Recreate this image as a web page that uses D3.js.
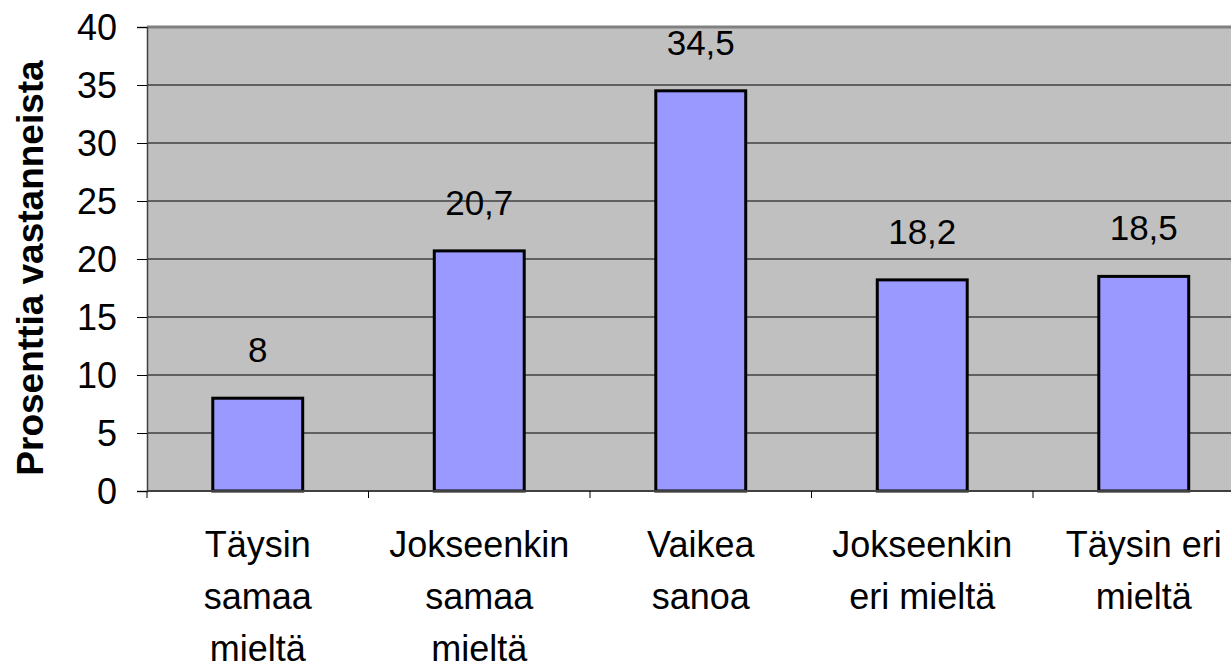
<!DOCTYPE html>
<html>
<head>
<meta charset="utf-8">
<script src="https://cdn.jsdelivr.net/npm/d3@7"></script>
<style>
  body { margin: 0; background: #fff; }
  svg { display: block; font-family: "Liberation Sans", Arial, sans-serif; }
</style>
</head>
<body>
<div class="chart-box"></div>
<script>
var categories = ["Täysin samaa mieltä", "Jokseenkin samaa mieltä", "Vaikea sanoa", "Jokseenkin eri mieltä", "Täysin eri mieltä"];
var cat_lines = [["Täysin", "samaa", "mieltä"], ["Jokseenkin", "samaa", "mieltä"], ["Vaikea", "sanoa"], ["Jokseenkin", "eri mieltä"], ["Täysin eri", "mieltä"]];
var values = [8, 20.7, 34.5, 18.2, 18.5];
var value_labels = ["8", "20,7", "34,5", "18,2", "18,5"];
var y_ticks = [0, 5, 10, 15, 20, 25, 30, 35, 40];

var width = 1231, height = 669;
var margin = {top: 27, left: 147};
var plot_w = 221.5 * 5, plot_h = 464;

var svg = d3.select(".chart-box").append("svg")
    .attr("width", width)
    .attr("height", height);

var g = svg.append("g")
    .attr("transform", "translate(" + margin.left + "," + margin.top + ")");

var x = d3.scaleBand()
    .domain(categories)
    .range([0, plot_w])
    .paddingInner(0.594)
    .paddingOuter(0.297);

var y = d3.scaleLinear()
    .domain([0, 40])
    .range([plot_h, 0]);

// plot background
g.append("rect")
    .attr("width", plot_w)
    .attr("height", plot_h)
    .attr("fill", "#c0c0c0");

g.append("line")
    .attr("x1", 0).attr("x2", plot_w)
    .attr("y1", 0).attr("y2", 0)
    .attr("stroke", "#808080")
    .attr("stroke-width", 3);

// gridlines
g.selectAll(".grid")
    .data(y_ticks.filter(function(d) { return d > 0 && d < 40; }))
  .enter().append("line")
    .attr("class", "grid")
    .attr("x1", 0).attr("x2", plot_w)
    .attr("y1", function(d) { return y(d); })
    .attr("y2", function(d) { return y(d); })
    .attr("stroke", "#000")
    .attr("stroke-width", 1);

// bars
g.selectAll(".bar")
    .data(values)
  .enter().append("rect")
    .attr("class", "bar")
    .attr("x", function(d, i) { return x(categories[i]); })
    .attr("width", x.bandwidth())
    .attr("y", function(d) { return y(d); })
    .attr("height", function(d) { return plot_h - y(d); })
    .attr("fill", "#9999ff")
    .attr("stroke", "#000")
    .attr("stroke-width", 3);

// value labels
g.selectAll(".vlabel")
    .data(values)
  .enter().append("text")
    .attr("class", "vlabel")
    .attr("x", function(d, i) { return x(categories[i]) + x.bandwidth() / 2; })
    .attr("y", function(d) { return y(d) - 36; })
    .attr("text-anchor", "middle")
    .attr("font-size", 35)
    .text(function(d, i) { return value_labels[i]; });

// y axis
var y_axis = g.append("g")
    .call(d3.axisLeft(y).tickValues(y_ticks).tickSize(10).tickPadding(20))
    .attr("font-size", 36)
    .attr("font-family", "inherit");
y_axis.select(".domain").attr("stroke", "#404040").attr("stroke-width", 1.5);
y_axis.selectAll(".tick line").attr("stroke", "#000");
y_axis.selectAll(".tick text").attr("fill", "#000").attr("dy", "0.36em");

// x axis
var x_axis = g.append("g")
    .attr("transform", "translate(0," + plot_h + ")");
x_axis.append("line")
    .attr("x1", 0).attr("x2", plot_w)
    .attr("stroke", "#404040").attr("stroke-width", 2);
x_axis.selectAll(".xtick")
    .data(d3.range(categories.length + 1))
  .enter().append("line")
    .attr("class", "xtick")
    .attr("x1", function(d) { return d * x.step(); })
    .attr("x2", function(d) { return d * x.step(); })
    .attr("y1", 0).attr("y2", 7)
    .attr("stroke", "#000");

var xl = x_axis.selectAll(".xlabel")
    .data(categories)
  .enter().append("text")
    .attr("class", "xlabel")
    .attr("text-anchor", "middle")
    .attr("font-size", 36)
    .attr("transform", function(d) { return "translate(" + (x(d) + x.bandwidth() / 2) + ",0)"; });
xl.selectAll("tspan")
    .data(function(d, i) { return cat_lines[i]; })
  .enter().append("tspan")
    .attr("x", 0)
    .attr("y", function(d, j) { return 66 + j * 52; })
    .text(function(d) { return d; });

// y title
svg.append("text")
    .attr("transform", "translate(43,268) rotate(-90)")
    .attr("text-anchor", "middle")
    .attr("font-size", 37)
    .attr("font-weight", "bold")
    .text("Prosenttia vastanneista");
</script>
</body>
</html>
